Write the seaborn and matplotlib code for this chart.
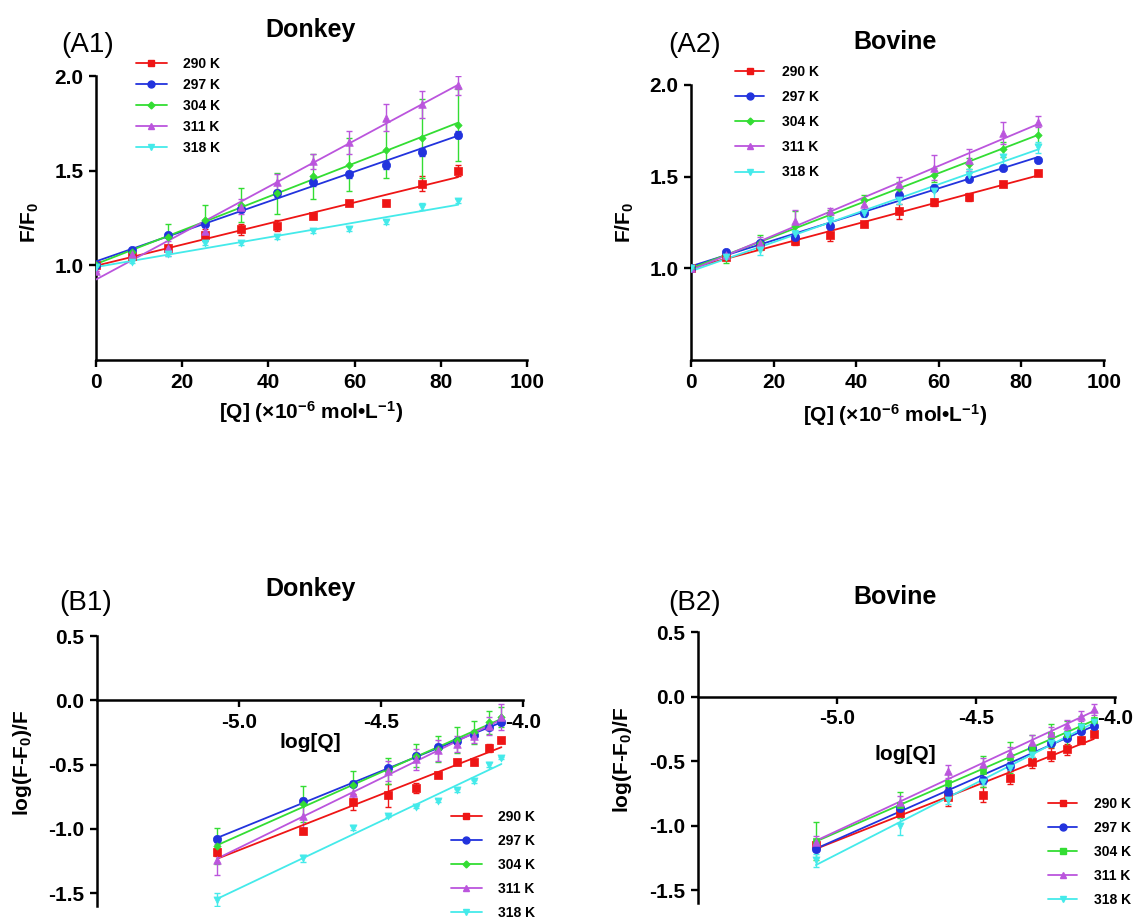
import numpy as np
import pandas as pd
import matplotlib
matplotlib.use("Agg")
import matplotlib.pyplot as plt
from matplotlib.lines import Line2D
import seaborn as sns

# ---------------- data ----------------
TEMPS = ["290 K", "297 K", "304 K", "311 K", "318 K"]
COLORS = ["#ee1515", "#2233dd", "#33dd33", "#bb55dd", "#44eaea"]

CONC = [0, 8.4, 16.8, 25.2, 33.6, 42.0, 50.4, 58.8, 67.2, 75.6, 84.0]
LOGQ = [-5.076, -4.775, -4.599, -4.474, -4.377, -4.298, -4.231, -4.173, -4.121, -4.076]

# (A1) Donkey  F/F0
A1_290 = [1.00, 1.05, 1.09, 1.16, 1.19, 1.21, 1.26, 1.33, 1.33, 1.43, 1.50]
A1_297 = [1.00, 1.08, 1.16, 1.22, 1.30, 1.38, 1.44, 1.48, 1.53, 1.60, 1.69]
A1_304 = [1.00, 1.07, 1.15, 1.24, 1.32, 1.38, 1.47, 1.53, 1.61, 1.67, 1.74]
A1_311 = [0.97, 1.06, 1.09, 1.18, 1.31, 1.44, 1.55, 1.65, 1.78, 1.85, 1.95]
A1_318 = [0.99, 1.02, 1.06, 1.12, 1.12, 1.15, 1.18, 1.19, 1.23, 1.31, 1.34]
A1_290_ERR = [0, 0.01, 0.02, 0.03, 0.03, 0.03, 0.01, 0.01, 0.01, 0.04, 0.03]
A1_297_ERR = [0, 0.01, 0.01, 0.02, 0.02, 0.02, 0.02, 0.02, 0.02, 0.02, 0.02]
A1_304_ERR = [0, 0.02, 0.07, 0.08, 0.09, 0.11, 0.12, 0.14, 0.15, 0.21, 0.19]
A1_311_ERR = [0, 0.02, 0.04, 0.04, 0.04, 0.04, 0.04, 0.06, 0.07, 0.07, 0.05]
A1_318_ERR = [0, 0.01, 0.01, 0.01, 0.01, 0.01, 0.01, 0.01, 0.01, 0.02, 0.01]

# (A2) Bovine  F/F0
A2_290 = [1.00, 1.06, 1.12, 1.15, 1.18, 1.24, 1.31, 1.36, 1.39, 1.46, 1.52]
A2_297 = [1.00, 1.09, 1.14, 1.17, 1.23, 1.30, 1.40, 1.44, 1.49, 1.55, 1.59]
A2_304 = [1.00, 1.06, 1.14, 1.23, 1.30, 1.37, 1.44, 1.51, 1.57, 1.65, 1.73]
A2_311 = [1.00, 1.07, 1.14, 1.26, 1.31, 1.35, 1.46, 1.55, 1.59, 1.74, 1.80]
A2_318 = [1.00, 1.06, 1.10, 1.19, 1.26, 1.30, 1.37, 1.42, 1.51, 1.61, 1.66]
A2_290_ERR = [0, 0.01, 0.01, 0.02, 0.03, 0.01, 0.04, 0.02, 0.02, 0.01, 0.01]
A2_297_ERR = [0, 0.01, 0.01, 0.01, 0.01, 0.01, 0.01, 0.01, 0.01, 0.01, 0.01]
A2_304_ERR = [0, 0.03, 0.04, 0.08, 0.02, 0.03, 0.03, 0.04, 0.03, 0.04, 0.05]
A2_311_ERR = [0, 0.02, 0.03, 0.06, 0.02, 0.03, 0.04, 0.07, 0.06, 0.06, 0.03]
A2_318_ERR = [0, 0.01, 0.03, 0.02, 0.02, 0.02, 0.02, 0.04, 0.03, 0.04, 0.03]

# (B1) Donkey  log(F-F0)/F
B1_290 = [-1.18, -1.02, -0.79, -0.74, -0.68, -0.58, -0.48, -0.48, -0.37, -0.31]
B1_297 = [-1.08, -0.78, -0.65, -0.53, -0.43, -0.36, -0.32, -0.27, -0.21, -0.17]
B1_304 = [-1.13, -0.81, -0.66, -0.55, -0.43, -0.38, -0.31, -0.25, -0.17, -0.13]
B1_311 = [-1.24, -0.90, -0.72, -0.55, -0.46, -0.39, -0.34, -0.28, -0.20, -0.13]
B1_318 = [-1.55, -1.23, -0.99, -0.90, -0.83, -0.78, -0.70, -0.63, -0.50, -0.45]
B1_290_ERR = [0.03, 0.02, 0.06, 0.09, 0.04, 0.02, 0.02, 0.02, 0.03, 0.02]
B1_297_ERR = [0.02, 0.02, 0.02, 0.02, 0.02, 0.02, 0.02, 0.02, 0.02, 0.02]
B1_304_ERR = [0.14, 0.14, 0.11, 0.10, 0.09, 0.10, 0.10, 0.09, 0.09, 0.08]
B1_311_ERR = [0.12, 0.12, 0.08, 0.08, 0.08, 0.08, 0.06, 0.05, 0.07, 0.10]
B1_318_ERR = [0.05, 0.03, 0.02, 0.01, 0.01, 0.01, 0.01, 0.01, 0.02, 0.01]

# (B2) Bovine  log(F-F0)/F
B2_290 = [-1.15, -0.90, -0.78, -0.76, -0.63, -0.51, -0.45, -0.41, -0.34, -0.29]
B2_297 = [-1.18, -0.86, -0.74, -0.65, -0.54, -0.40, -0.36, -0.32, -0.27, -0.23]
B2_304 = [-1.12, -0.84, -0.67, -0.58, -0.47, -0.40, -0.30, -0.29, -0.23, -0.18]
B2_311 = [-1.13, -0.82, -0.58, -0.52, -0.44, -0.35, -0.28, -0.22, -0.15, -0.10]
B2_318 = [-1.27, -1.00, -0.80, -0.66, -0.55, -0.45, -0.36, -0.30, -0.24, -0.20]
B2_290_ERR = [0.03, 0.03, 0.07, 0.06, 0.05, 0.04, 0.05, 0.04, 0.03, 0.02]
B2_297_ERR = [0.02, 0.03, 0.04, 0.03, 0.03, 0.02, 0.02, 0.02, 0.02, 0.02]
B2_304_ERR = [0.15, 0.10, 0.07, 0.12, 0.12, 0.10, 0.09, 0.10, 0.08, 0.07]
B2_311_ERR = [0.05, 0.05, 0.05, 0.04, 0.05, 0.05, 0.04, 0.04, 0.04, 0.04]
B2_318_ERR = [0.05, 0.07, 0.03, 0.02, 0.02, 0.02, 0.02, 0.02, 0.02, 0.02]

A_XTICKS = [0, 20, 40, 60, 80, 100]
A_YTICKS = [1.0, 1.5, 2.0]
B_XTICKS = [-5.0, -4.5, -4.0]
B_YTICKS = [0.5, 0.0, -0.5, -1.0, -1.5]

# ---------------- style ----------------
sns.set_theme(style="ticks")
plt.rcParams["font.family"] = ["Liberation Sans", "DejaVu Sans"]
plt.rcParams["font.weight"] = "bold"
plt.rcParams["text.color"] = "black"
plt.rcParams["axes.labelcolor"] = "black"
plt.rcParams["xtick.color"] = "black"
plt.rcParams["ytick.color"] = "black"
plt.rcParams["xtick.labelcolor"] = "black"
plt.rcParams["ytick.labelcolor"] = "black"
plt.rcParams["axes.unicode_minus"] = False
plt.rcParams["mathtext.fontset"] = "custom"
plt.rcParams["mathtext.rm"] = "Liberation Sans"
plt.rcParams["mathtext.bf"] = "Liberation Sans:bold"
plt.rcParams["mathtext.it"] = "Liberation Sans:italic"

W, H = 1136, 918
fig = plt.figure(figsize=(W / 100, H / 100), dpi=100)


def rect(l, t, r, b):
    return [l / W, 1 - b / H, (r - l) / W, (b - t) / H]


def fx(px):
    return px / W


def fy(py):
    return 1 - py / H


MARKERS_A = ["s", "o", "D", "^", "v"]
MARKERS_B2 = ["s", "o", "s", "^", "v"]
SIZES = [26, 36, 14, 30, 26]


def draw_panel(ax, x, ys, errs, markers):
    x = np.asarray(x, dtype=float)
    for i, (lab, col) in enumerate(zip(TEMPS, COLORS)):
        df = pd.DataFrame({"x": x, "y": ys[i], "e": errs[i]})
        ax.errorbar(df["x"], df["y"], yerr=df["e"], fmt="none", ecolor=col,
                    elinewidth=1.0, capsize=2.5, capthick=1.0, zorder=2)
        sns.regplot(data=df, x="x", y="y", ax=ax, scatter=False, ci=None,
                    truncate=True, color=col, line_kws=dict(lw=1.3, zorder=3))
        sns.scatterplot(data=df, x="x", y="y", ax=ax, color=col,
                        marker=markers[i], s=SIZES[i], edgecolor=col,
                        linewidth=0.5, legend=False, zorder=4)
    ax.set_xlabel("")
    ax.set_ylabel("")


def style_axes(ax):
    for s in ["top", "right"]:
        ax.spines[s].set_visible(False)
    for s in ["left", "bottom"]:
        ax.spines[s].set_linewidth(1.8)
        ax.spines[s].set_color("black")
    ax.tick_params(axis="both", direction="out", length=5, width=1.7,
                   labelsize=15, color="black", labelcolor="black", pad=4)
    for lab in ax.get_xticklabels() + ax.get_yticklabels():
        lab.set_fontweight("bold")
    ax.set_facecolor("none")
    ax.grid(False)


def make_legend(markers, left, top, spacing, hlen, pad):
    handles = [Line2D([0], [0], color=c, lw=1.3, marker=m,
                      markersize=(5 if m != "D" else 3.5),
                      markerfacecolor=c, markeredgecolor=c)
               for c, m in zip(COLORS, markers)]
    fig.legend(handles, TEMPS, loc="upper left",
               bbox_to_anchor=(fx(left), fy(top)), frameon=False,
               borderpad=0, borderaxespad=0, labelspacing=spacing,
               handlelength=hlen, handletextpad=pad, labelcolor="black",
               prop=dict(family="Liberation Sans", weight="bold", size=10))


# ---------- A1 ----------
axA1 = fig.add_axes(rect(96, 76, 527, 360))
draw_panel(axA1, CONC, [A1_290, A1_297, A1_304, A1_311, A1_318],
           [A1_290_ERR, A1_297_ERR, A1_304_ERR, A1_311_ERR, A1_318_ERR], MARKERS_A)
axA1.set_xlim(0, 100)
axA1.set_ylim(0.5, 2.0)
axA1.set_xticks(A_XTICKS)
axA1.set_yticks(A_YTICKS)
axA1.set_yticklabels([f"{v:.1f}" for v in A_YTICKS])
style_axes(axA1)

# ---------- A2 ----------
axA2 = fig.add_axes(rect(691, 85, 1104, 360))
draw_panel(axA2, CONC, [A2_290, A2_297, A2_304, A2_311, A2_318],
           [A2_290_ERR, A2_297_ERR, A2_304_ERR, A2_311_ERR, A2_318_ERR], MARKERS_A)
axA2.set_xlim(0, 100)
axA2.set_ylim(0.5, 2.0)
axA2.set_xticks(A_XTICKS)
axA2.set_yticks(A_YTICKS)
axA2.set_yticklabels([f"{v:.1f}" for v in A_YTICKS])
style_axes(axA2)

# ---------- B1 ----------
axB1 = fig.add_axes(rect(97, 636, 523, 906))
draw_panel(axB1, LOGQ, [B1_290, B1_297, B1_304, B1_311, B1_318],
           [B1_290_ERR, B1_297_ERR, B1_304_ERR, B1_311_ERR, B1_318_ERR], MARKERS_A)
axB1.set_xlim(-5.5, -4.0)
axB1.set_ylim(-1.6, 0.5)
axB1.set_xticks(B_XTICKS)
axB1.set_xticklabels([f"{v:.1f}" for v in B_XTICKS])
axB1.set_yticks(B_YTICKS)
axB1.set_yticklabels([f"{v:.1f}" for v in B_YTICKS])
style_axes(axB1)
axB1.spines["bottom"].set_position(("data", 0))

# ---------- B2 ----------
axB2 = fig.add_axes(rect(698, 632, 1115, 903))
draw_panel(axB2, LOGQ, [B2_290, B2_297, B2_304, B2_311, B2_318],
           [B2_290_ERR, B2_297_ERR, B2_304_ERR, B2_311_ERR, B2_318_ERR], MARKERS_B2)
axB2.set_xlim(-5.5, -4.0)
axB2.set_ylim(-1.6, 0.5)
axB2.set_xticks(B_XTICKS)
axB2.set_xticklabels([f"{v:.1f}" for v in B_XTICKS])
axB2.set_yticks(B_YTICKS)
axB2.set_yticklabels([f"{v:.1f}" for v in B_YTICKS])
style_axes(axB2)
axB2.spines["bottom"].set_position(("data", 0))

# ---------- text ----------
title_kw = dict(ha="center", va="center", fontsize=18, fontweight="bold", color="black")
fig.text(fx(311), fy(30), "Donkey", **title_kw)
fig.text(fx(895), fy(42), "Bovine", **title_kw)
fig.text(fx(311), fy(589), "Donkey", **title_kw)
fig.text(fx(895), fy(597), "Bovine", **title_kw)

plab_kw = dict(ha="center", va="center", fontsize=20, fontweight="normal", color="black")
fig.text(fx(88), fy(45), "(A1)", **plab_kw)
fig.text(fx(695), fy(45), "(A2)", **plab_kw)
fig.text(fx(86), fy(603), "(B1)", **plab_kw)
fig.text(fx(695), fy(603), "(B2)", **plab_kw)

xlab = "[Q] (×10$^{\\mathbf{-6}}$ mol•L$^{\\mathbf{-1}}$)"
lab_kw = dict(ha="center", va="center", fontsize=15, fontweight="bold", color="black")
fig.text(fx(311), fy(412), xlab, **lab_kw)
fig.text(fx(895), fy(415), xlab, **lab_kw)

ylabA = "F/F$_{\\mathbf{0}}$"
fig.text(fx(30), fy(222), ylabA, rotation=90, **lab_kw)
fig.text(fx(625), fy(222), ylabA, rotation=90, **lab_kw)

ylabB = "log(F-F$_{\\mathbf{0}}$)/F"
fig.text(fx(22), fy(763), ylabB, rotation=90, **lab_kw)
fig.text(fx(622), fy(760), ylabB, rotation=90, **lab_kw)

fig.text(fx(310), fy(742), "log[Q]", **lab_kw)
fig.text(fx(905), fy(755), "log[Q]", **lab_kw)

# ---------- legends ----------
make_legend(MARKERS_A, 136, 57, 0.5, 2.2, 1.2)
make_legend(MARKERS_A, 735, 65, 0.8, 2.1, 1.3)
make_legend(MARKERS_A, 451, 810, 0.72, 2.2, 1.2)
make_legend(MARKERS_B2, 1048, 797, 0.72, 2.1, 1.2)

fig.savefig("out.png", dpi=100, facecolor="white")
